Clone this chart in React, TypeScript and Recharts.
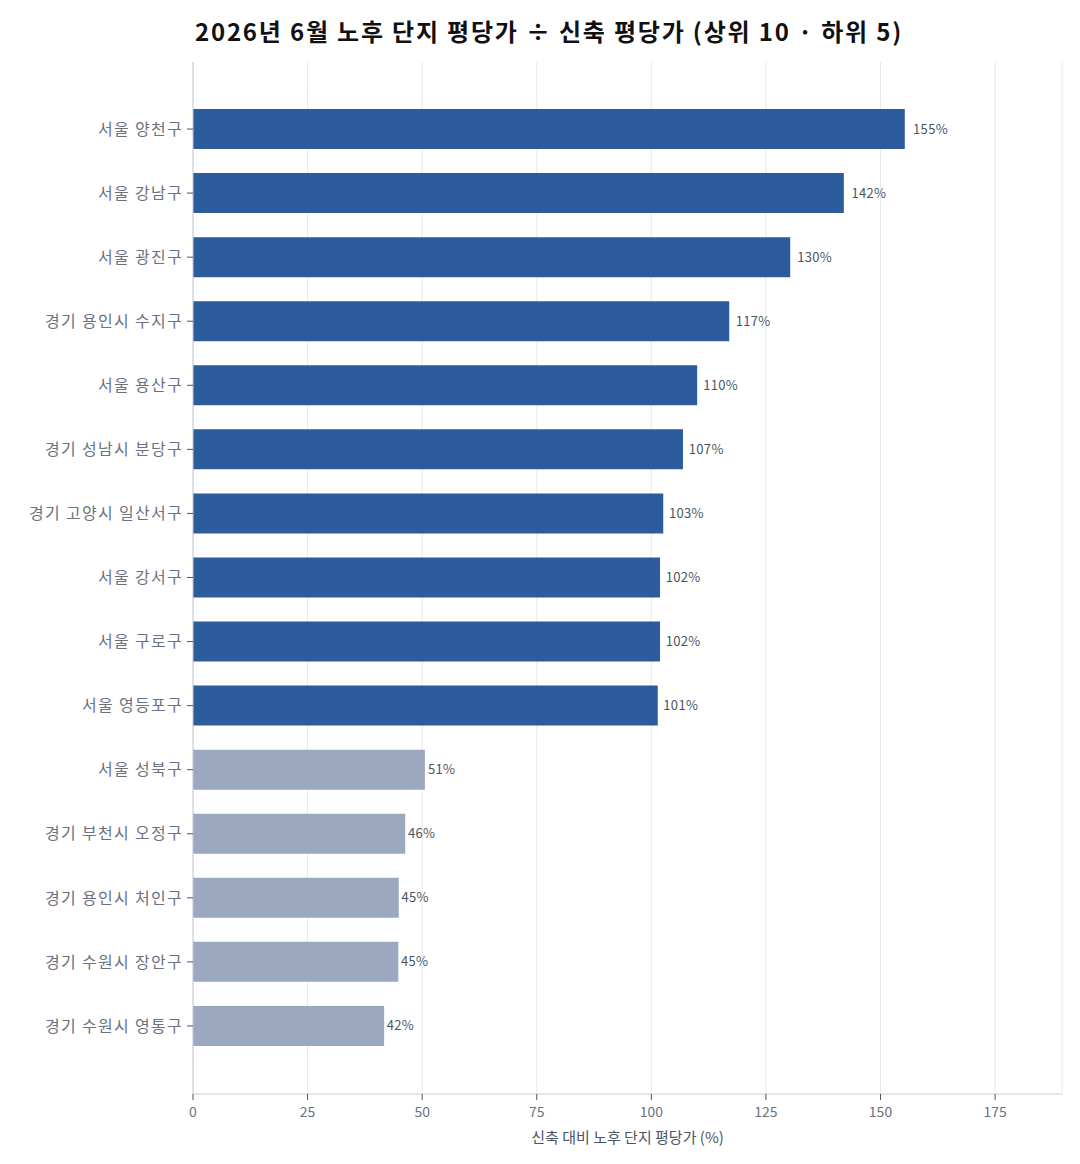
import { BarChart, Bar, XAxis, YAxis, CartesianGrid, Cell, LabelList } from 'recharts';

const regions = [
  '서울 양천구',
  '서울 강남구',
  '서울 광진구',
  '경기 용인시 수지구',
  '서울 용산구',
  '경기 성남시 분당구',
  '경기 고양시 일산서구',
  '서울 강서구',
  '서울 구로구',
  '서울 영등포구',
  '서울 성북구',
  '경기 부천시 오정구',
  '경기 용인시 처인구',
  '경기 수원시 장안구',
  '경기 수원시 영통구',
];

const ratios = [155.3, 142.0, 130.3, 117.0, 110.0, 106.9, 102.6, 101.9, 101.9, 101.4, 50.6, 46.3, 44.9, 44.8, 41.7];

// 'top' = 상위 10, 'bottom' = 하위 5
const groups = ['top', 'top', 'top', 'top', 'top', 'top', 'top', 'top', 'top', 'top', 'bottom', 'bottom', 'bottom', 'bottom', 'bottom'];

const xTicks = [0, 25, 50, 75, 100, 125, 150, 175];

const data = regions.map((region, i) => ({ region, ratio: ratios[i], group: groups[i] }));

const FONT = '"Noto Sans CJK KR", "Noto Sans", sans-serif';

const ValueLabel = (props: any) => {
  const { x, y, width, height, value } = props;
  const gap = width * 0.011 + 0.5;
  return (
    <text
      x={x + width + gap}
      y={y + height / 2}
      dy="0.35em"
      fontSize={13}
      fill="#4b5563"
      fontFamily={FONT}
      letterSpacing={0.3}
    >
      {Math.round(value)}%
    </text>
  );
};

export default function App() {
  return (
    <div style={{ position: 'relative', width: 1064, height: 1148, fontFamily: FONT }}>
      <div
        style={{
          position: 'absolute',
          top: 5,
          left: 9,
          width: 1064,
          textAlign: 'center',
          fontSize: 24,
          fontWeight: 700,
          letterSpacing: 1.8,
          color: '#111',
        }}
      >
        2026년 6월 노후 단지 평당가 ÷ 신축 평당가 (상위 10 · 하위 5)
      </div>
      <BarChart
        width={1064}
        height={1148}
        data={data}
        layout="vertical"
        margin={{ top: 54, right: 10, bottom: 2, left: 0 }}
      >
        <CartesianGrid horizontal={false} stroke="#e8e8ec" />
        <XAxis
          type="number"
          domain={[0, 189.6]}
          ticks={xTicks}
          allowDataOverflow
          height={60}
          tick={{ fontSize: 14, fill: '#6b7280', fontFamily: FONT }}
          tickLine={{ stroke: '#4b5563' }}
          axisLine={{ stroke: '#c8ccd4' }}
          tickSize={6}
          tickMargin={7}
          label={{
            value: '신축 대비 노후 단지 평당가 (%)',
            position: 'insideBottom',
            offset: 11,
            fontSize: 15,
            fill: '#4b5563',
            fontFamily: FONT,
          }}
        />
        <YAxis
          type="category"
          dataKey="region"
          width={185}
          padding={{ top: 35, bottom: 36 }}
          tick={{ fontSize: 16, fill: '#6b7280', fontFamily: FONT, letterSpacing: 1.3 }}
          tickLine={{ stroke: '#4b5563' }}
          axisLine={{ stroke: '#c8ccd4' }}
          tickSize={6}
          tickMargin={4}
        />
        <Bar dataKey="ratio" barSize={40} isAnimationActive={false}>
          {data.map((d) => (
            <Cell key={d.region} fill={d.group === 'top' ? '#2c5b9e' : '#9ca8bf'} />
          ))}
          <LabelList dataKey="ratio" content={ValueLabel} />
        </Bar>
      </BarChart>
    </div>
  );
}
